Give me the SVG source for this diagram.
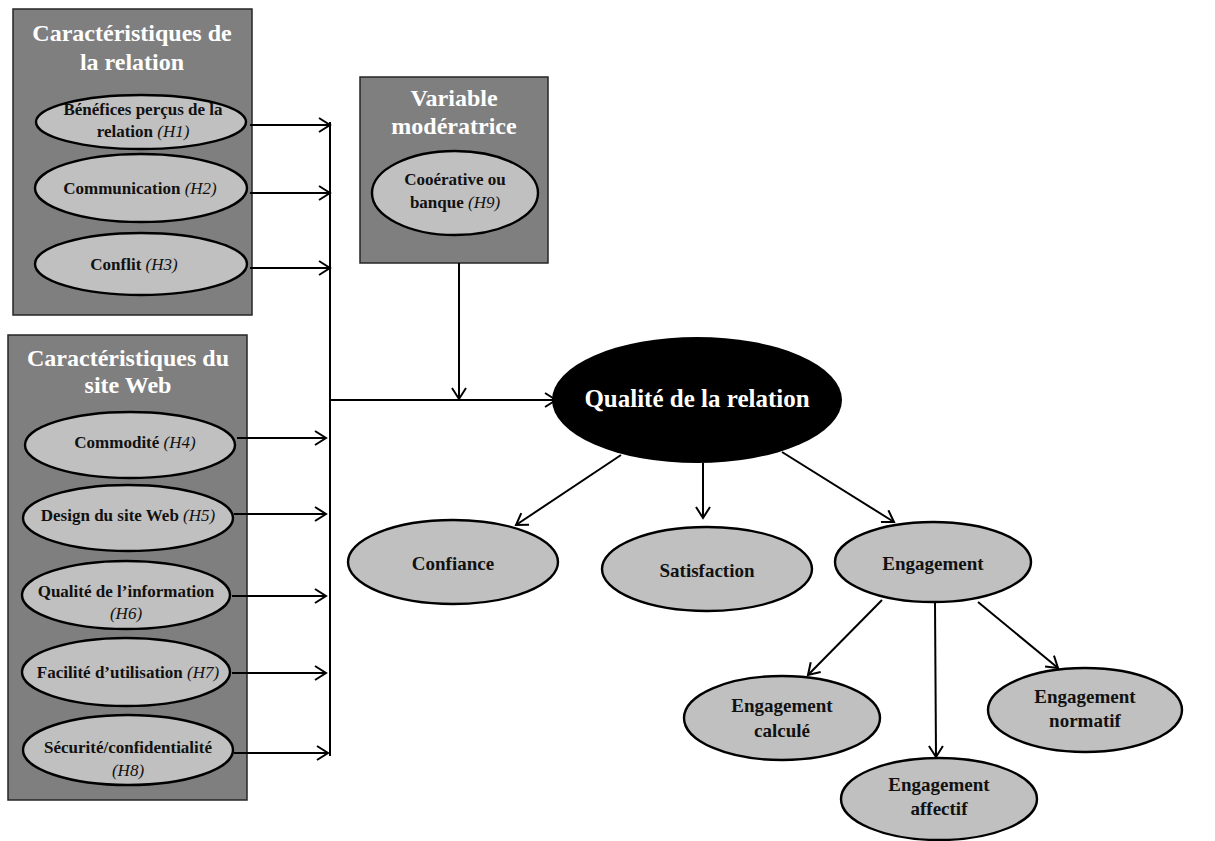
<svg xmlns="http://www.w3.org/2000/svg" width="1215" height="841" viewBox="0 0 1215 841">
<defs>
<marker id="arr" markerUnits="userSpaceOnUse" markerWidth="14" markerHeight="16" viewBox="0 0 14 16" refX="12" refY="8" orient="auto">
<path d="M1,1 L12,8 L1,15" fill="none" stroke="#000" stroke-width="2"/>
</marker>
</defs>
<style>
.box{fill:#7f7f7f;stroke:#262626;stroke-width:1.5}
.ell{fill:#c0c0c0;stroke:#000;stroke-width:2.4}
.ttl{font-family:"Liberation Serif",serif;font-weight:bold;font-size:24px;fill:#fff;text-anchor:middle}
.lbl{font-family:"Liberation Serif",serif;font-weight:bold;font-size:17px;fill:#111;text-anchor:middle}
.big{font-family:"Liberation Serif",serif;font-weight:bold;font-size:19px;fill:#111;text-anchor:middle}
.h{font-weight:normal;font-style:italic}
.cn{fill:none;stroke:#000;stroke-width:2}
</style>
<rect width="1215" height="841" fill="#fff"/>

<g id="relation">
<rect class="box" x="13" y="9" width="239" height="306"/>
<text class="ttl" x="132" y="41">Caractéristiques de</text>
<text class="ttl" x="132" y="70">la relation</text>
</g>
<g id="h1"><ellipse class="ell" cx="141" cy="122" rx="105" ry="27"/>
<text class="lbl" x="143" y="115">Bénéfices perçus de la</text>
<text class="lbl" x="143" y="137">relation <tspan class="h">(H1)</tspan></text></g>
<g id="h2"><ellipse class="ell" cx="141" cy="188" rx="106" ry="34"/>
<text class="lbl" x="140" y="194">Communication <tspan class="h">(H2)</tspan></text></g>
<g id="h3"><ellipse class="ell" cx="141" cy="264" rx="106" ry="31"/>
<text class="lbl" x="134" y="270">Conflit <tspan class="h">(H3)</tspan></text></g>

<g id="site">
<rect class="box" x="8" y="335" width="239" height="465"/>
<text class="ttl" x="128" y="366">Caractéristiques du</text>
<text class="ttl" x="128" y="393">site Web</text>
</g>
<g id="h4"><ellipse class="ell" cx="130" cy="445" rx="105" ry="33"/>
<text class="lbl" x="135" y="448">Commodité <tspan class="h">(H4)</tspan></text></g>
<g id="h5"><ellipse class="ell" cx="128" cy="518" rx="105" ry="33"/>
<text class="lbl" x="128" y="521">Design du site Web <tspan class="h">(H5)</tspan></text></g>
<g id="h6"><ellipse class="ell" cx="126" cy="595" rx="104" ry="34"/>
<text class="lbl" x="126" y="597">Qualité de l’information</text>
<text class="lbl" x="126" y="619"><tspan class="h">(H6)</tspan></text></g>
<g id="h7"><ellipse class="ell" cx="126" cy="672" rx="104" ry="34"/>
<text class="lbl" x="128" y="678">Facilité d’utilisation  <tspan class="h">(H7)</tspan></text></g>
<g id="h8"><ellipse class="ell" cx="128" cy="750" rx="105" ry="35"/>
<text class="lbl" x="128" y="753">Sécurité/confidentialité</text>
<text class="lbl" x="128" y="776"><tspan class="h">(H8)</tspan></text></g>

<g id="moderatrice">
<rect class="box" x="360" y="77" width="188" height="186"/>
<text class="ttl" x="454" y="106">Variable</text>
<text class="ttl" x="454" y="134">modératrice</text>
</g>
<g id="h9"><ellipse class="ell" cx="455" cy="193" rx="83" ry="42"/>
<text class="lbl" x="455" y="185">Cooérative ou</text>
<text class="lbl" x="455" y="208">banque <tspan class="h">(H9)</tspan></text></g>

<g id="qualite"><ellipse cx="697" cy="400" rx="145" ry="63" fill="#000"/>
<text x="697" y="407" font-family="Liberation Serif,serif" font-weight="bold" font-size="25" fill="#fff" text-anchor="middle">Qualité  de la relation</text></g>

<g id="confiance"><ellipse class="ell" cx="453" cy="562" rx="105" ry="42"/>
<text class="big" x="453" y="570">Confiance</text></g>
<g id="satisfaction"><ellipse class="ell" cx="707" cy="569" rx="105" ry="42"/>
<text class="big" x="707" y="577">Satisfaction</text></g>
<g id="engagement"><ellipse class="ell" cx="933" cy="562" rx="98" ry="40"/>
<text class="big" x="933" y="570">Engagement</text></g>
<g id="calcule"><ellipse class="ell" cx="782" cy="718" rx="98" ry="42"/>
<text class="big" x="782" y="712">Engagement</text>
<text class="big" x="782" y="737">calculé</text></g>
<g id="normatif"><ellipse class="ell" cx="1085" cy="710" rx="97" ry="42"/>
<text class="big" x="1085" y="703">Engagement</text>
<text class="big" x="1085" y="727">normatif</text></g>
<g id="affectif"><ellipse class="ell" cx="939" cy="799" rx="98" ry="41"/>
<text class="big" x="939" y="791">Engagement</text>
<text class="big" x="939" y="815">affectif</text></g>

<g id="connectors">
<line class="cn" x1="330" y1="122" x2="330" y2="756"/>
<line class="cn" x1="250" y1="125" x2="330" y2="125" marker-end="url(#arr)"/>
<line class="cn" x1="250" y1="193" x2="330" y2="193" marker-end="url(#arr)"/>
<line class="cn" x1="250" y1="268" x2="330" y2="268" marker-end="url(#arr)"/>
<line class="cn" x1="237" y1="438" x2="326" y2="438" marker-end="url(#arr)"/>
<line class="cn" x1="234" y1="514" x2="326" y2="514" marker-end="url(#arr)"/>
<line class="cn" x1="232" y1="596" x2="326" y2="596" marker-end="url(#arr)"/>
<line class="cn" x1="232" y1="673" x2="326" y2="673" marker-end="url(#arr)"/>
<line class="cn" x1="234" y1="753" x2="328" y2="753" marker-end="url(#arr)"/>
<line class="cn" x1="330" y1="400" x2="556" y2="400" marker-end="url(#arr)"/>
<line class="cn" x1="459" y1="263" x2="459" y2="399" marker-end="url(#arr)"/>
<line class="cn" x1="621" y1="455" x2="516" y2="525" marker-end="url(#arr)"/>
<line class="cn" x1="703" y1="463" x2="703" y2="518" marker-end="url(#arr)"/>
<line class="cn" x1="782" y1="452" x2="894" y2="522" marker-end="url(#arr)"/>
<line class="cn" x1="882" y1="600" x2="808" y2="675" marker-end="url(#arr)"/>
<line class="cn" x1="935" y1="603" x2="936" y2="757" marker-end="url(#arr)"/>
<line class="cn" x1="978" y1="602" x2="1058" y2="668" marker-end="url(#arr)"/>
</g>
</svg>
